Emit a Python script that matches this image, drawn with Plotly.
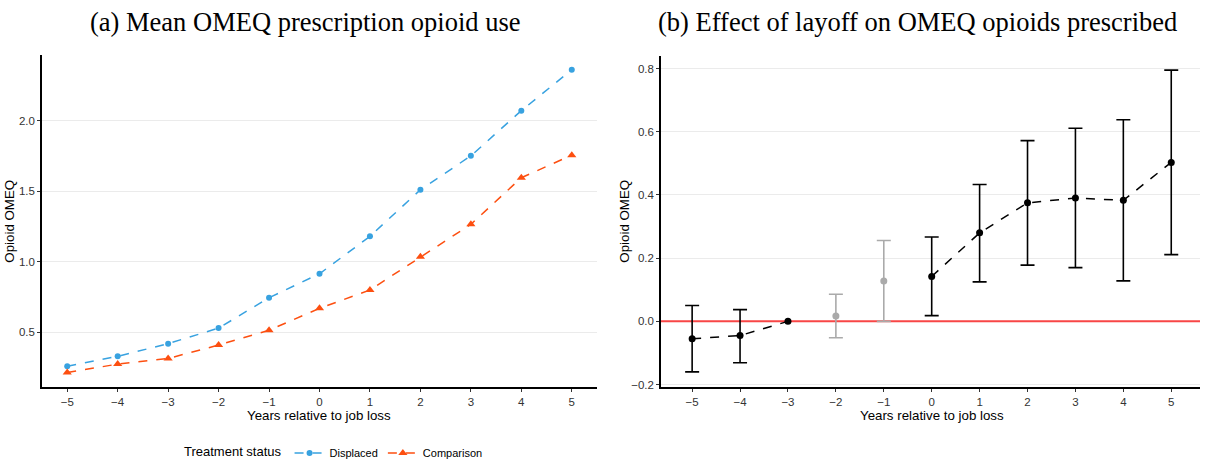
import plotly.graph_objects as go

# years relative to job loss
years = [-5, -4, -3, -2, -1, 0, 1, 2, 3, 4, 5]

# panel (a): mean OMEQ by group
displaced = [0.26, 0.33, 0.42, 0.53, 0.745, 0.915, 1.18, 1.51, 1.75, 2.07, 2.36]
comparison = [0.215, 0.275, 0.315, 0.41, 0.515, 0.67, 0.80, 1.035, 1.265, 1.595, 1.755]

# panel (b): event-study estimates and 95% CI
estimate = [-0.055, -0.045, 0.0, 0.017, 0.128, 0.142, 0.28, 0.375, 0.39, 0.383, 0.503]
ci_low = [-0.16, -0.131, None, -0.052, 0.0, 0.018, 0.125, 0.178, 0.17, 0.128, 0.211]
ci_high = [0.05, 0.037, None, 0.086, 0.256, 0.267, 0.433, 0.572, 0.611, 0.638, 0.795]
anticipation = [False, False, False, True, True, False, False, False, False, False, False]

BLUE = "#38a2e0"
ORANGE = "#fd4f10"
GREY = "#aaaaaa"
W, H = 1207, 468

fig = go.Figure()

# ---- panel (a)
fig.add_trace(go.Scatter(
    x=years, y=displaced, mode="lines+markers", name="Displaced",
    line=dict(color=BLUE, width=1.5, dash="dash"),
    marker=dict(color=BLUE, size=6, symbol="circle"),
    xaxis="x", yaxis="y",
))
fig.add_trace(go.Scatter(
    x=years, y=comparison, mode="lines+markers", name="Comparison",
    line=dict(color=ORANGE, width=1.5, dash="dash"),
    marker=dict(color=ORANGE, size=8, symbol="triangle-up"),
    xaxis="x", yaxis="y",
))

# ---- panel (b)
# red reference line at zero, drawn first so the CIs sit on top of it
fig.add_trace(go.Scatter(
    x=[years[0] - 1, years[-1] + 1], y=[0, 0], mode="lines", showlegend=False,
    line=dict(color="#f84646", width=2), hoverinfo="skip",
    xaxis="x2", yaxis="y2",
))

# dashed line through non-anticipation estimates (gap over -2, -1)
line_y = [None if a else e for e, a in zip(estimate, anticipation)]
fig.add_trace(go.Scatter(
    x=years, y=line_y, mode="lines", connectgaps=False, showlegend=False,
    line=dict(color="black", width=1.5, dash="dash"),
    xaxis="x2", yaxis="y2",
))

for grey in (True, False):
    xs, ys, up, dn = [], [], [], []
    for yr, e, lo, hi, a in zip(years, estimate, ci_low, ci_high, anticipation):
        if a != grey or lo is None:
            continue
        xs.append(yr)
        ys.append(e)
        up.append(hi - e)
        dn.append(e - lo)
    col = GREY if grey else "black"
    fig.add_trace(go.Scatter(
        x=xs, y=ys, mode="markers", showlegend=False,
        marker=dict(color=col, size=7),
        error_y=dict(type="data", array=up, arrayminus=dn, symmetric=False,
                     color=col, thickness=1.6, width=7),
        xaxis="x2", yaxis="y2",
    ))

# point at -3 (reference year, no CI)
ref_x = [yr for yr, lo in zip(years, ci_low) if lo is None]
ref_y = [e for e, lo in zip(estimate, ci_low) if lo is None]
fig.add_trace(go.Scatter(
    x=ref_x, y=ref_y, mode="markers", showlegend=False,
    marker=dict(color="black", size=7), xaxis="x2", yaxis="y2",
))

tick_font = dict(family="Liberation Sans, Arial", size=11.5, color="#333333")
axis_common = dict(
    showline=True, linecolor="black", linewidth=1.5,
    ticks="outside", ticklen=3, tickcolor="#333333", tickwidth=1,
    tickfont=tick_font, zeroline=False, automargin=False,
)

fig.update_layout(
    width=W, height=H,
    margin=dict(l=0, r=0, t=0, b=0),
    paper_bgcolor="white", plot_bgcolor="white",
    font=dict(family="Liberation Sans, Arial", color="black"),
    xaxis=dict(domain=[42 / W, 597 / W], range=[-5.5, 5.5],
               showgrid=False, anchor="y", **axis_common),
    yaxis=dict(domain=[1 - 395 / H, 1 - 56 / H], range=[0.11, 2.465],
               tickvals=[0.5, 1.0, 1.5, 2.0], ticktext=["0.5", "1.0", "1.5", "2.0"],
               showgrid=True, gridcolor="#ebebeb", gridwidth=1, anchor="x", **axis_common),
    xaxis2=dict(domain=[661 / W, 1200 / W], range=[-5.65, 5.6],
                showgrid=False, anchor="y2", **axis_common),
    yaxis2=dict(domain=[1 - 395 / H, 1 - 57 / H], range=[-0.209, 0.84],
                tickvals=[-0.2, 0.0, 0.2, 0.4, 0.6, 0.8],
                ticktext=["\u22120.2", "0.0", "0.2", "0.4", "0.6", "0.8"],
                showgrid=True, gridcolor="#ebebeb", gridwidth=1, anchor="x2", **axis_common),
    legend=dict(
        orientation="h", x=182 / W, y=1 - 462 / H, xanchor="left", yanchor="middle",
        title=dict(text="Treatment status", side="left",
                   font=dict(family="Liberation Sans, Arial", size=13, color="black")),
        font=dict(family="Liberation Sans, Arial", size=11, color="black"),
        itemwidth=30, bgcolor="rgba(0,0,0,0)",
    ),
    showlegend=True,
)

fig.update_xaxes(tickvals=years, ticktext=[str(y).replace("-", "\u2212") for y in years])

title_font = dict(family="Liberation Serif, Times New Roman", size=26.5, color="black")
label_font = dict(family="Liberation Sans, Arial", size=13.3, color="black")
annotations = [
    dict(text="(a) Mean OMEQ prescription opioid use", x=305 / W, y=1 - 22 / H,
         font=title_font),
    dict(text="(b) Effect of layoff on OMEQ opioids prescribed", x=917 / W, y=1 - 22 / H,
         font=title_font),
    dict(text="Years relative to job loss", x=319 / W, y=1 - 424 / H, font=label_font),
    dict(text="Years relative to job loss", x=932 / W, y=1 - 424 / H, font=label_font),
    dict(text="Opioid OMEQ", x=10 / W, y=1 - 226 / H, textangle=-90, font=label_font),
    dict(text="Opioid OMEQ", x=625 / W, y=1 - 226 / H, textangle=-90, font=label_font),
]
for a in annotations:
    fig.add_annotation(xref="paper", yref="paper", showarrow=False,
                       xanchor="center", yanchor="middle", **a)

# the page's default body margin would shift the figure by 8px
fig.write_html("out.html", config={"displayModeBar": False},
               post_script="document.body.style.margin='0';")
